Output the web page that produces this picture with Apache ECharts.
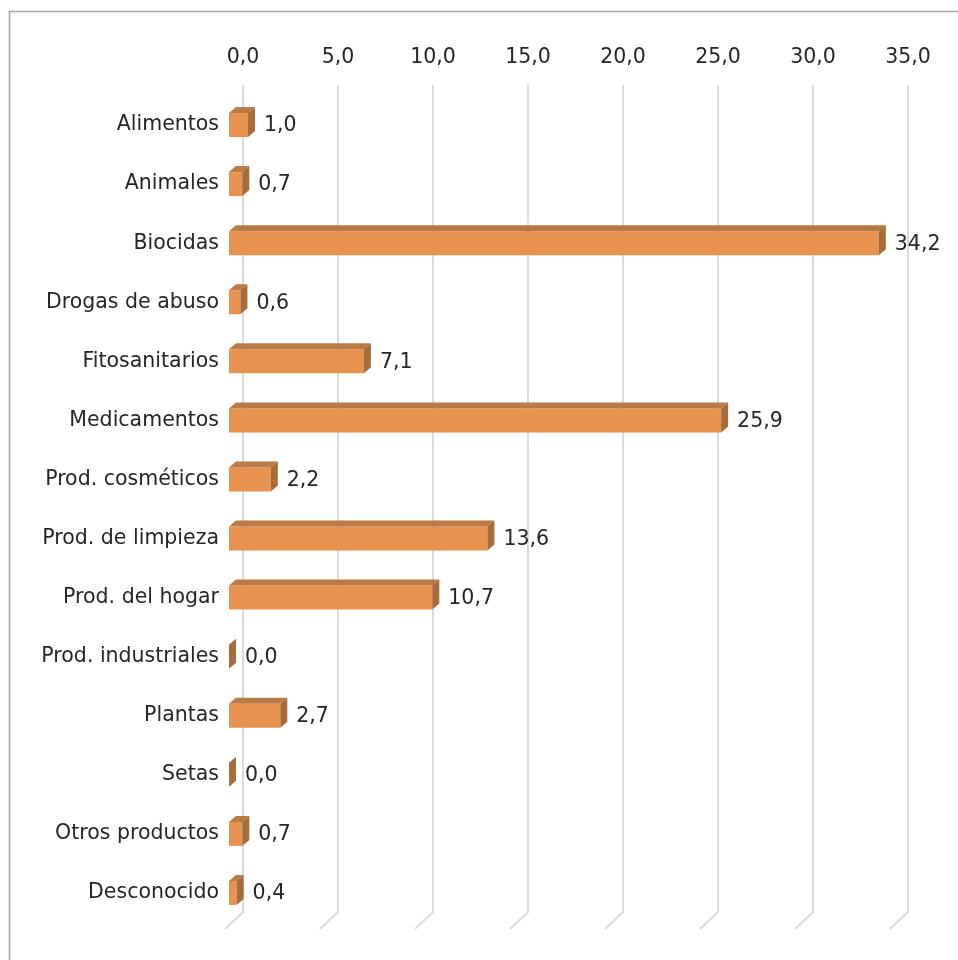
<!DOCTYPE html>
<html><head><meta charset="utf-8">
<script src="https://cdn.jsdelivr.net/npm/echarts@6/dist/echarts.min.js"></script>
<style>html,body{margin:0;padding:0;background:#fff}#c{width:958px;height:960px}</style>
</head><body><div id="c"></div>
<script>
const categories = ["Alimentos","Animales","Biocidas","Drogas de abuso","Fitosanitarios","Medicamentos","Prod. cosméticos","Prod. de limpieza","Prod. del hogar","Prod. industriales","Plantas","Setas","Otros productos","Desconocido"];
const values = [1.0,0.7,34.2,0.6,7.1,25.9,2.2,13.6,10.7,0.0,2.7,0.0,0.7,0.4];
const tickValues = [0,5,10,15,20,25,30,35];

const FONT = "DejaVu Sans";
const FS = 20.5;
const fmt = v => v.toFixed(1).replace('.', ',');
const chart = echarts.init(document.getElementById('c'), null, {renderer:'canvas'});

chart.setOption({
  animation:false,
  backgroundColor:'#fff',
  graphic:[{type:'rect', shape:{x:9.5,y:11.5,width:1200,height:1200}, style:{fill:null, stroke:'#a6a6a6', lineWidth:1.5}, z:0}],
  grid:[
    {left:243, width:665, top:85, bottom:47},
    {left:229, width:665, top:95.5, height:827}
  ],
  xAxis:[
    {gridIndex:0, type:'value', position:'top', min:0, max:35, interval:5,
     axisLine:{show:false}, axisTick:{show:false},
     axisLabel:{formatter:v=>fmt(v), fontFamily:FONT, fontSize:FS, color:'#262626', margin:17},
     splitLine:{show:true, lineStyle:{color:'#d9dbe0', width:2}}},
    {gridIndex:1, type:'value', min:0, max:35, show:false}
  ],
  yAxis:[
    {gridIndex:0, type:'value', min:0, max:1, show:false},
    {gridIndex:1, type:'category', data:categories, inverse:true,
     axisLine:{show:false}, axisTick:{show:false}, splitLine:{show:false},
     axisLabel:{fontFamily:FONT, fontSize:FS, color:'#262626', margin:10}}
  ],
  series:[
    {type:'custom', xAxisIndex:0, yAxisIndex:0, data:tickValues.map(v=>[v,0]),
     renderItem:(params, api)=>{
       const p = api.coord([api.value(0), 0]);
       return {type:'line', shape:{x1:p[0], y1:p[1]-1, x2:p[0]-18, y2:p[1]+16},
         style:{stroke:'#d9dbe0', lineWidth:2}};
     }},
    {type:'custom', xAxisIndex:1, yAxisIndex:1,
     data:values.map((v,i)=>[v,i]),
     renderItem:(params, api)=>{
       const v = api.value(0), c = api.value(1);
       const p0 = api.coord([0,c]), p1 = api.coord([v,c]);
       const bh = 24, dx = 7, dy = -6;
       const x0 = p0[0], x1 = p1[0], yc = p0[1];
       const t = yc - bh/2, b = yc + bh/2;
       return {type:'group', children:[
         {type:'rect', shape:{x:x0, y:t, width:x1-x0, height:bh}, style:{fill:'#e8924f'}},
         {type:'polygon', shape:{points:[[x0,t],[x0+dx,t+dy],[x1+dx,t+dy],[x1,t]]}, style:{fill:'#b97a45'}},
         {type:'polygon', shape:{points:[[x1,t],[x1+dx,t+dy],[x1+dx,b+dy],[x1,b]]}, style:{fill:'#a66c3a'}},
         {type:'text', x:x1+dx+9, y:yc+1, style:{text:fmt(v), fontFamily:FONT, fontSize:FS, fill:'#262626', align:'left', verticalAlign:'middle'}}
       ]};
     }}
  ]
});
</script></body></html>
